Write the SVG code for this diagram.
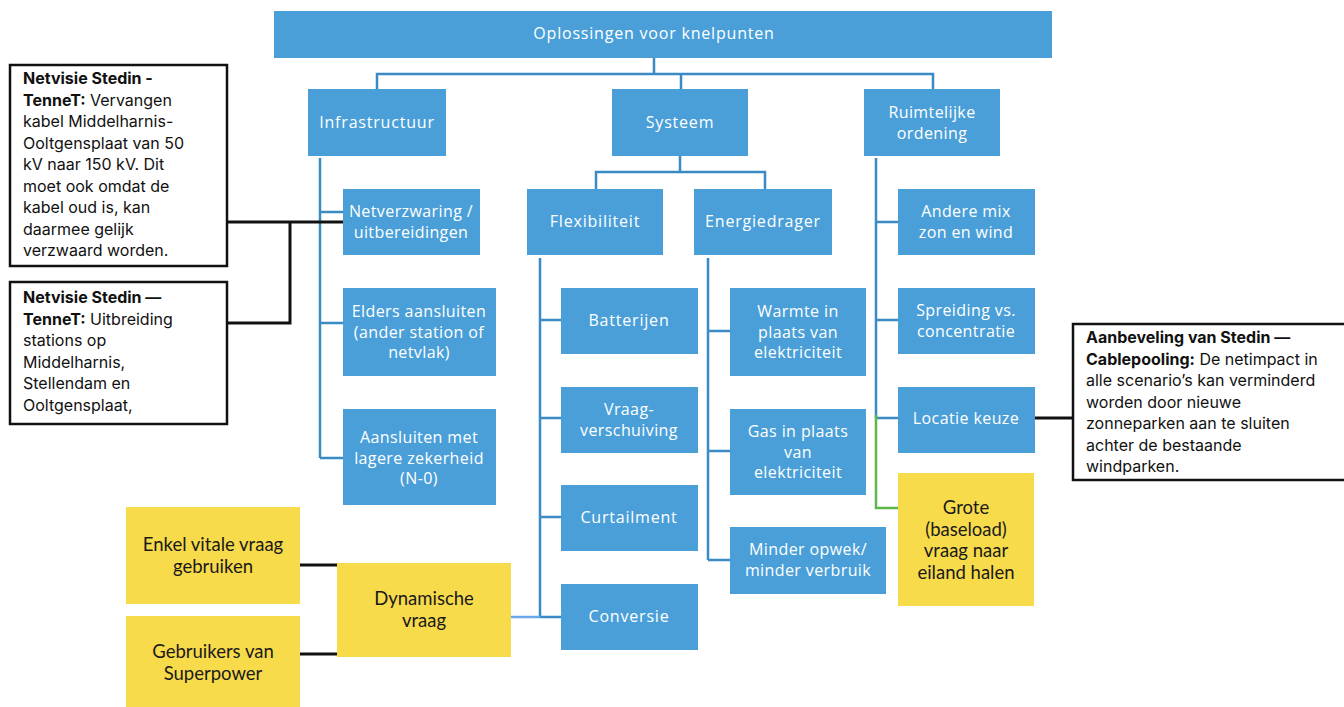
<svg xmlns="http://www.w3.org/2000/svg" width="1344" height="707" viewBox="0 0 1344 707">
<style>
.b{fill:#4a9fd9;}
.y{fill:#f8db4a;}
.c{fill:#ffffff;stroke:#111111;stroke-width:2.5;}
.bt{font-family:"Open Sans","Noto Sans",sans-serif;font-size:16px;letter-spacing:0.4px;fill:#ffffff;text-anchor:middle;}
.bt1{letter-spacing:0.8px;}
.yt{font-family:"Lato","Noto Sans",sans-serif;font-size:18.5px;fill:#1a1a1a;text-anchor:middle;}
.ct{font-family:"Inter","Noto Sans",sans-serif;font-size:16px;fill:#111111;}
.ct tspan.k{font-weight:bold;}
.bl{fill:none;stroke:#3a8ac4;stroke-width:2.5;}
.gl{fill:none;stroke:#5cb84a;stroke-width:2.5;}
.kl{fill:none;stroke:#111111;stroke-width:3;}
.ll{fill:none;stroke:#6aa8ea;stroke-width:2.5;}
</style>
<g id="connectors">
<path class="bl" d="M654 58V74M377 89V74H933V89M681 74V89"/>
<path class="bl" d="M320 158V458M320 212H343M320 323H343M320 458H343"/>
<path class="bl" d="M680 156V172M596 189V172H765V189"/>
<path class="bl" d="M540 258V617M540 320H561M540 418H561M540 517H561M540 617H561"/>
<path class="bl" d="M708 258V560M708 331H730M708 451H730M708 560H730"/>
<path class="bl" d="M876 158V418M876 222H898M876 320H898M876 418H898"/>
<path class="gl" d="M876 415V508H898"/>
<path class="ll" d="M511 617H540"/>
<path class="kl" d="M227 222H343M290 222V323H227"/>
<path class="kl" d="M1035 418H1073"/>
<path class="kl" d="M300 565H337M300 654H337"/>
</g>
<g id="n-top"><rect class="b" x="274" y="11" width="778" height="47"/><text class="bt bt1" x="654" y="39">Oplossingen voor knelpunten</text></g>
<g id="n-infra"><rect class="b" x="308" y="89" width="138" height="67"/><text class="bt bt1" x="377" y="128">Infrastructuur</text></g>
<g id="n-systeem"><rect class="b" x="612" y="89" width="136" height="67"/><text class="bt bt1" x="680" y="128">Systeem</text></g>
<g id="n-ruimte"><rect class="b" x="864" y="89" width="136" height="67"/><text class="bt" x="932" y="118">Ruimtelijke<tspan x="932" dy="20.5">ordening</tspan></text></g>
<g id="n-netverzwaring"><rect class="b" x="343" y="189" width="137" height="66"/><text class="bt" x="411" y="217">Netverzwaring /<tspan x="411" dy="20.5">uitbereidingen</tspan></text></g>
<g id="n-elders"><rect class="b" x="343" y="288" width="153" height="88"/><text class="bt" x="419" y="317">Elders aansluiten<tspan x="419" dy="20.5">(ander station of</tspan><tspan x="419" dy="20.5">netvlak)</tspan></text></g>
<g id="n-aansluiten"><rect class="b" x="343" y="409" width="153" height="96"/><text class="bt" x="419" y="443">Aansluiten met<tspan x="419" dy="20.5">lagere zekerheid</tspan><tspan x="419" dy="20.5">(N-0)</tspan></text></g>
<g id="n-flex"><rect class="b" x="527" y="189" width="136" height="66"/><text class="bt bt1" x="595" y="227">Flexibiliteit</text></g>
<g id="n-energie"><rect class="b" x="694" y="189" width="138" height="66"/><text class="bt bt1" x="763" y="227">Energiedrager</text></g>
<g id="n-batterijen"><rect class="b" x="561" y="288" width="137" height="66"/><text class="bt bt1" x="629" y="326">Batterijen</text></g>
<g id="n-vraag"><rect class="b" x="561" y="387" width="137" height="66"/><text class="bt" x="629" y="415">Vraag-<tspan x="629" dy="20.5">verschuiving</tspan></text></g>
<g id="n-curtailment"><rect class="b" x="561" y="485" width="137" height="66"/><text class="bt bt1" x="629" y="523">Curtailment</text></g>
<g id="n-conversie"><rect class="b" x="561" y="584" width="137" height="66"/><text class="bt bt1" x="629" y="622">Conversie</text></g>
<g id="n-warmte"><rect class="b" x="730" y="288" width="136" height="88"/><text class="bt" x="798" y="317">Warmte in<tspan x="798" dy="20.5">plaats van</tspan><tspan x="798" dy="20.5">elektriciteit</tspan></text></g>
<g id="n-gas"><rect class="b" x="730" y="409" width="136" height="86"/><text class="bt" x="798" y="437">Gas in plaats<tspan x="798" dy="20.5">van</tspan><tspan x="798" dy="20.5">elektriciteit</tspan></text></g>
<g id="n-minder"><rect class="b" x="730" y="527" width="156" height="67"/><text class="bt" x="808" y="555">Minder opwek/<tspan x="808" dy="20.5">minder verbruik</tspan></text></g>
<g id="n-andere"><rect class="b" x="898" y="189" width="137" height="66"/><text class="bt" x="966" y="217">Andere mix<tspan x="966" dy="20.5">zon en wind</tspan></text></g>
<g id="n-spreiding"><rect class="b" x="898" y="288" width="137" height="66"/><text class="bt" x="966" y="316">Spreiding vs.<tspan x="966" dy="20.5">concentratie</tspan></text></g>
<g id="n-locatie"><rect class="b" x="898" y="387" width="137" height="66"/><text class="bt" x="966" y="424">Locatie keuze</text></g>
<g id="n-grote"><rect class="y" x="898" y="473" width="136" height="133"/><text class="yt" x="966" y="514">Grote<tspan x="966" dy="21.5">(baseload)</tspan><tspan x="966" dy="21.5">vraag naar</tspan><tspan x="966" dy="21.5">eiland halen</tspan></text></g>
<g id="n-enkel"><rect class="y" x="126" y="507" width="174" height="97"/><text class="yt" x="213" y="551">Enkel vitale vraag<tspan x="213" dy="22">gebruiken</tspan></text></g>
<g id="n-gebruikers"><rect class="y" x="126" y="616" width="174" height="91"/><text class="yt" x="213" y="658">Gebruikers van<tspan x="213" dy="22">Superpower</tspan></text></g>
<g id="n-dynamisch"><rect class="y" x="337" y="563" width="174" height="94"/><text class="yt" x="424" y="605">Dynamische<tspan x="424" dy="22">vraag</tspan></text></g>
<g id="n-callout1"><rect class="c" x="10" y="65" width="217" height="201"/><text class="ct" x="23" y="84"><tspan class="k">Netvisie Stedin -</tspan><tspan x="23" dy="21.5" class="k">TenneT:</tspan> Vervangen<tspan x="23" dy="21.5">kabel Middelharnis-</tspan><tspan x="23" dy="21.5">Ooltgensplaat van 50</tspan><tspan x="23" dy="21.5">kV naar 150 kV. Dit</tspan><tspan x="23" dy="21.5">moet ook omdat de</tspan><tspan x="23" dy="21.5">kabel oud is, kan</tspan><tspan x="23" dy="21.5">daarmee gelijk</tspan><tspan x="23" dy="21.5">verzwaard worden.</tspan></text></g>
<g id="n-callout2"><rect class="c" x="10" y="282" width="217" height="142"/><text class="ct" x="23" y="303"><tspan class="k">Netvisie Stedin —</tspan><tspan x="23" dy="21.5" class="k">TenneT:</tspan> Uitbreiding<tspan x="23" dy="21.5">stations op</tspan><tspan x="23" dy="21.5">Middelharnis,</tspan><tspan x="23" dy="21.5">Stellendam en</tspan><tspan x="23" dy="21.5">Ooltgensplaat,</tspan></text></g>
<g id="n-callout3"><rect class="c" x="1073" y="324" width="280" height="156"/><text class="ct" x="1086" y="343"><tspan class="k">Aanbeveling van Stedin —</tspan><tspan x="1086" dy="21.5" class="k">Cablepooling:</tspan> De netimpact in<tspan x="1086" dy="21.5">alle scenario’s kan verminderd</tspan><tspan x="1086" dy="21.5">worden door nieuwe</tspan><tspan x="1086" dy="21.5">zonneparken aan te sluiten</tspan><tspan x="1086" dy="21.5">achter de bestaande</tspan><tspan x="1086" dy="21.5">windparken.</tspan></text></g>
</svg>
